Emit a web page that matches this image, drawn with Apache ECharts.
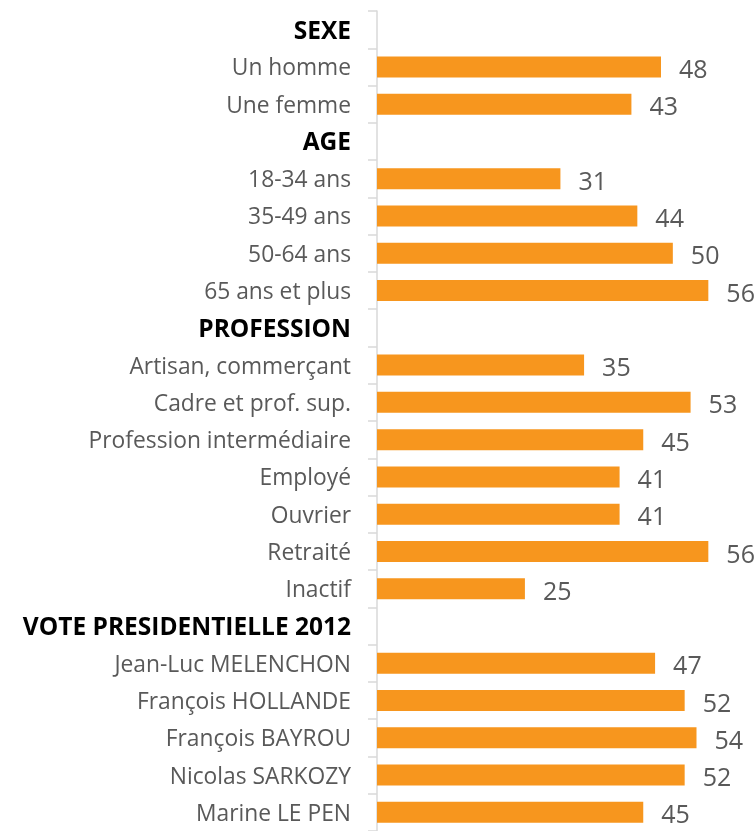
<!DOCTYPE html>
<html><head><meta charset="utf-8">
<script src="https://cdn.jsdelivr.net/npm/echarts@6/dist/echarts.min.js"></script>
<style>html,body{margin:0;padding:0;background:#fff}#c{width:754px;height:831px}</style>
</head><body><div id="c"></div>
<script>
const categories = ["SEXE","Un homme","Une femme","AGE","18-34 ans","35-49 ans","50-64 ans","65 ans et plus","PROFESSION","Artisan, commerçant","Cadre et prof. sup.","Profession intermédiaire","Employé","Ouvrier","Retraité","Inactif","VOTE PRESIDENTIELLE 2012","Jean-Luc MELENCHON","François HOLLANDE","François BAYROU","Nicolas SARKOZY","Marine LE PEN"];
const headers = ["SEXE","AGE","PROFESSION","VOTE PRESIDENTIELLE 2012"];
const values = [null,48,43,null,31,44,50,56,null,35,53,45,41,41,56,25,null,47,52,54,52,45];

const chart = echarts.init(document.getElementById('c'));
chart.setOption({
  animation:false,
  grid:{left:377, top:11, width:355, height:825, containLabel:false},
  xAxis:{type:'value', min:0, max:60, show:false},
  yAxis:{type:'category', inverse:true, data:categories,
    axisLine:{lineStyle:{color:'#d9d9d9', width:1.5}},
    axisTick:{show:true, interval:0, length:9, lineStyle:{color:'#d9d9d9', width:1.5}},
    axisLabel:{interval:0, margin:26, padding:[4,0,0,0], fontFamily:'Open Sans', fontSize:22.8, color:'#595959',
      formatter:function(v){ return headers.indexOf(v)>=0 ? '{h|'+v+'}' : v; },
      rich:{h:{fontFamily:'Open Sans', fontWeight:'bold', fontSize:24.5, color:'#000'}}}
  },
  series:[{type:'bar', data:values, barWidth:21,
    itemStyle:{color:'#F7961E'},
    label:{show:true, position:'right', distance:18, offset:[0,4], fontFamily:'Open Sans', fontSize:25, color:'#595959',
      formatter:function(p){return p.value==null?'':p.value;}}
  }]
});
</script></body></html>
